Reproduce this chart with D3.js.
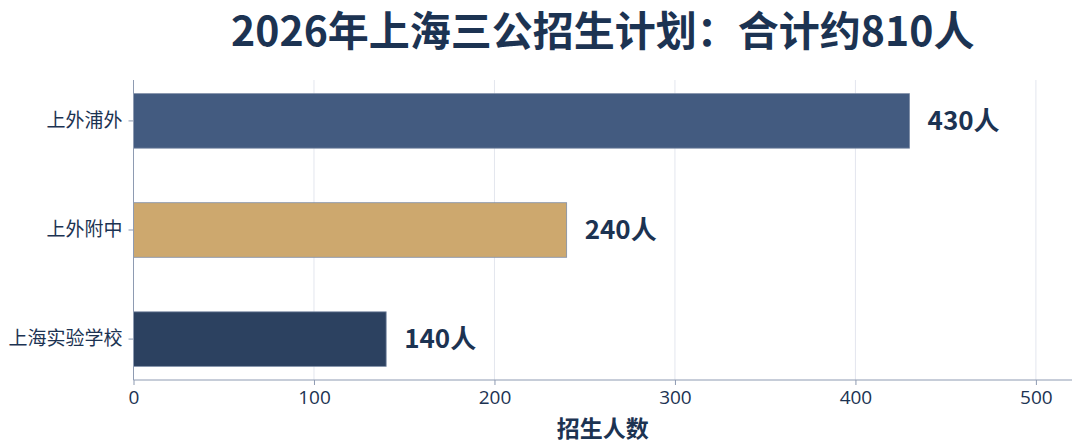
<!DOCTYPE html>
<html>
<head>
<meta charset="utf-8">
<script src="https://cdn.jsdelivr.net/npm/d3@7"></script>
<style>
  body { margin: 0; background: #fff; }
  text { font-family: "Noto Sans CJK SC", "Noto Sans", sans-serif; }
</style>
</head>
<body>
<script>
// data
var schools = ["上外浦外", "上外附中", "上海实验学校"];
var seats = [430, 240, 140];
var barColors = ["#435b80", "#cda86e", "#2c4160"];
var xTicks = [0, 100, 200, 300, 400, 500];
var titleText = "2026年上海三公招生计划：合计约810人";
var xLabel = "招生人数";

var w = 1080, h = 447;
// plot box (note: "top" is reserved on window, so use other names)
var plotL = 133.5, plotR = 1072, plotT = 80, plotB = 380;
var ink = "#1c3352";

var svg = d3.select("body")
  .append("svg")
  .attr("width", w)
  .attr("height", h);

var x = d3.scaleLinear().domain([0, 520]).range([plotL, plotR]);
var y = d3.scaleBand().domain(schools).range([plotT, plotB])
  .paddingInner(0.5).paddingOuter(0.125);

// grid
svg.selectAll("line.grid")
  .data(xTicks.slice(1))
  .enter()
  .append("line")
  .attr("class", "grid")
  .attr("x1", function(d) { return x(d); })
  .attr("x2", function(d) { return x(d); })
  .attr("y1", plotT)
  .attr("y2", plotB)
  .attr("stroke", "#e3e6ee")
  .attr("stroke-width", 1);

// bars
svg.selectAll("rect.bar")
  .data(schools)
  .enter()
  .append("rect")
  .attr("class", "bar")
  .attr("x", x(0))
  .attr("y", function(d) { return y(d); })
  .attr("width", function(d, i) { return x(seats[i]) - x(0); })
  .attr("height", y.bandwidth())
  .attr("fill", function(d, i) { return barColors[i]; })
  .attr("stroke", "#7d8ca6")
  .attr("stroke-width", 0.8);

// value labels
svg.selectAll("text.val")
  .data(schools)
  .enter()
  .append("text")
  .attr("class", "val")
  .attr("x", function(d, i) { return x(seats[i]) + 18; })
  .attr("y", function(d) { return y(d) + y.bandwidth() / 2; })
  .attr("dy", "0.36em")
  .attr("fill", ink)
  .attr("font-size", 26)
  .attr("font-weight", "bold")
  .text(function(d, i) { return seats[i] + "人"; });

// axes
var xAxis = svg.append("g")
  .attr("transform", "translate(0," + plotB + ")")
  .call(d3.axisBottom(x).tickValues(xTicks).tickSize(5).tickPadding(6));
var yAxis = svg.append("g")
  .attr("transform", "translate(" + plotL + ",0)")
  .call(d3.axisLeft(y).tickSize(5).tickPadding(6));

[xAxis, yAxis].forEach(function(a) {
  a.select(".domain").attr("stroke", "#8e9bb2").attr("stroke-width", 1);
  a.selectAll(".tick line").attr("stroke", "#8e9bb2");
  a.selectAll(".tick text")
    .attr("fill", ink)
    .attr("font-size", 19)
    .style("font-family", "'Noto Sans CJK SC', 'Noto Sans', sans-serif");
});
xAxis.selectAll(".tick text").style("font-family", "'Open Sans', 'Noto Sans', sans-serif");
xAxis.select(".domain").attr("d", "M" + plotL + ",0H" + plotR);
yAxis.select(".domain").attr("d", "M0," + plotT + "V" + plotB);

// title + axis label
svg.append("text")
  .attr("x", (plotL + plotR) / 2)
  .attr("y", 46)
  .attr("text-anchor", "middle")
  .attr("fill", ink)
  .attr("font-size", 41)
  .attr("font-weight", "bold")
  .text(titleText);

svg.append("text")
  .attr("x", (plotL + plotR) / 2)
  .attr("y", 437)
  .attr("text-anchor", "middle")
  .attr("fill", ink)
  .attr("font-size", 23)
  .attr("font-weight", "bold")
  .text(xLabel);
</script>
</body>
</html>
